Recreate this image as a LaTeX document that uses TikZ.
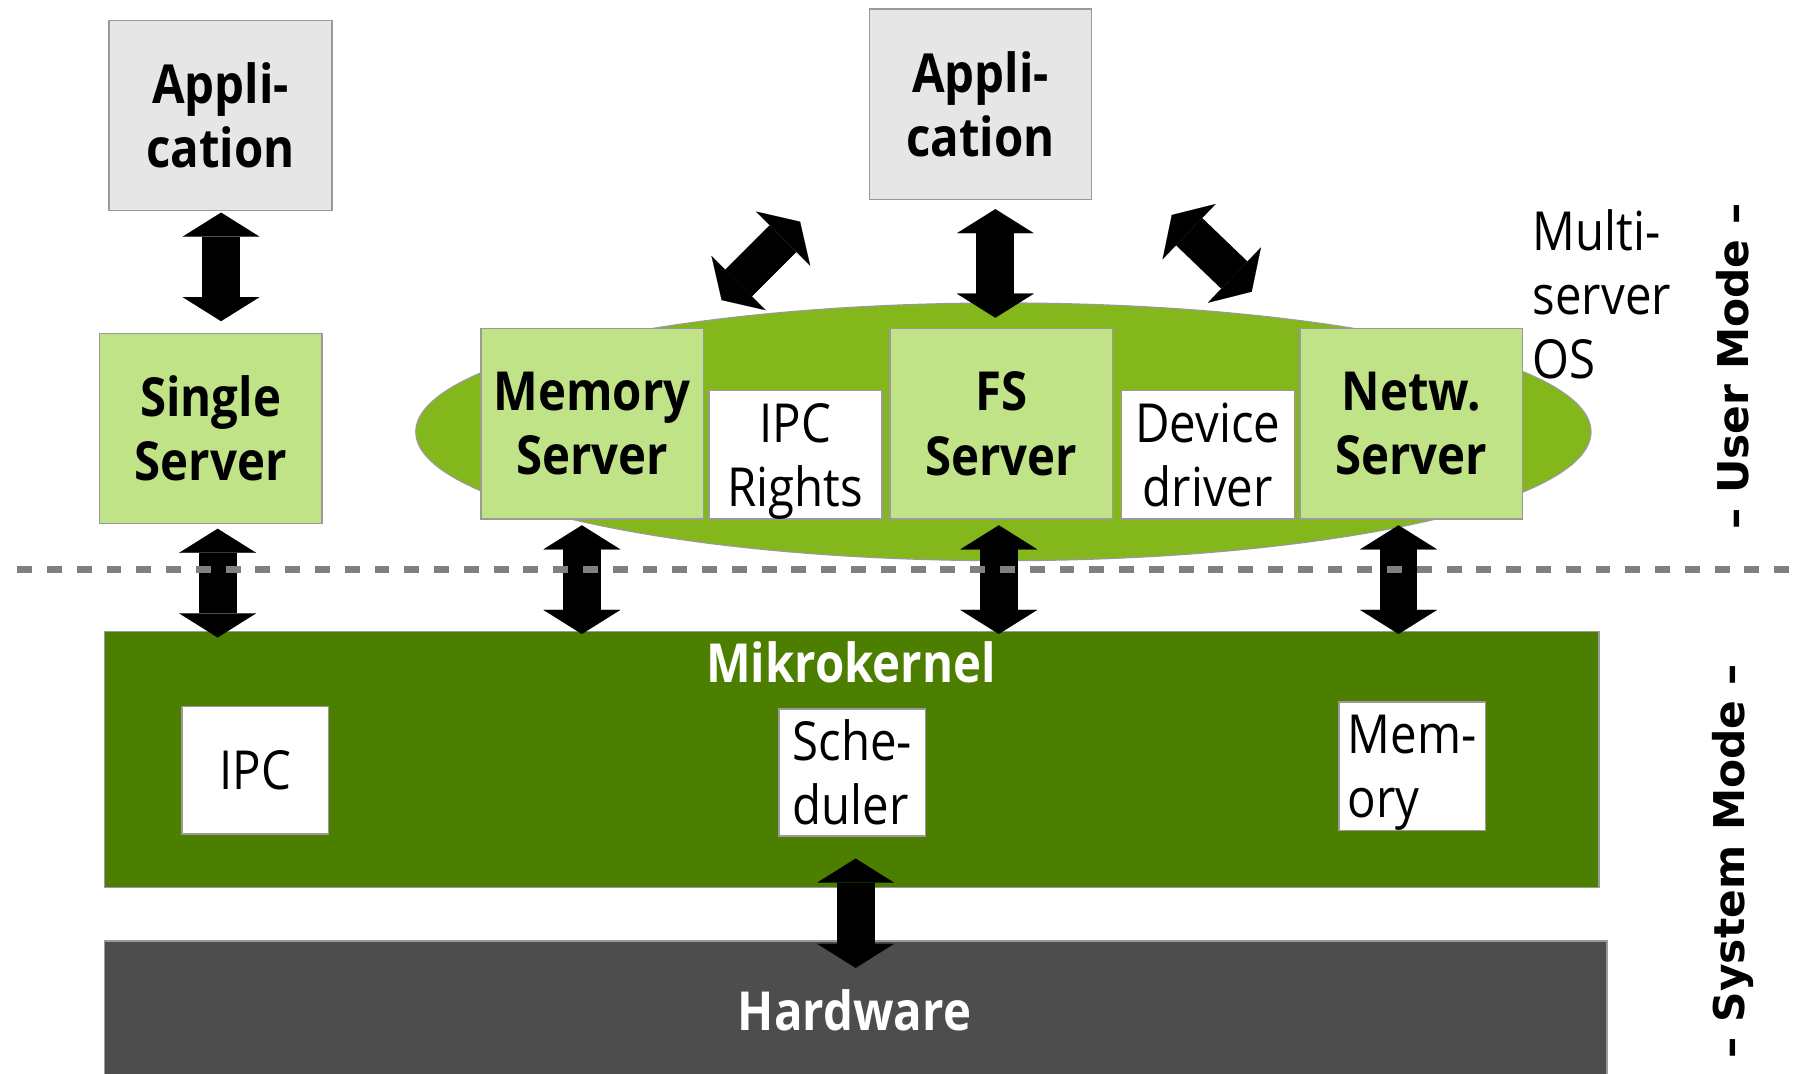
\documentclass[tikz,border=0pt]{standalone}
\usepackage{fontspec}
\setmainfont{Open Sans}[FakeStretch=0.88]
\newfontfamily\sidefont{DejaVu Sans}
\usetikzlibrary{shapes.geometric,arrows.meta,calc}

\definecolor{appgray}{HTML}{E6E6E6}
\definecolor{edgegray}{HTML}{9A9A9A}
\definecolor{srvgreen}{HTML}{C0E387}
\definecolor{osgreen}{HTML}{84B71B}
\definecolor{kerngreen}{HTML}{4C7E00}
\definecolor{hwgray}{HTML}{4D4D4D}
\definecolor{dashgray}{HTML}{808080}

\newcommand{\bigtext}{\fontsize{47pt}{56pt}\selectfont}
% a last line whose descenders should not lift the text block
\newcommand{\nodepth}[1]{\raisebox{0pt}[\height][0pt]{#1}}

\tikzset{
  box/.style={draw=edgegray, line width=1.2pt, inner sep=0pt, align=center, font=\bigtext},
  appbox/.style={box, fill=appgray, font=\bigtext\bfseries, minimum width=195pt, minimum height=166pt},
  srvbox/.style={box, fill=srvgreen, font=\bigtext\bfseries, minimum width=194pt, minimum height=166pt},
  wbox/.style={box, fill=white, minimum width=151pt, minimum height=112pt},
  kbox/.style={box, fill=white, minimum width=128pt, minimum height=111pt},
  layer/.style={draw=edgegray, line width=1pt, inner sep=0pt},
  whitelabel/.style={text=white, font=\bigtext\bfseries, inner sep=0pt},
  modelabel/.style={rotate=90, font=\sidefont\bfseries\fontsize{37pt}{44pt}\selectfont, inner sep=0pt},
  dbl/.style={line width=33pt, draw=black,
    {Triangle[length=21pt,width=67pt,line width=0.1pt]}-{Triangle[length=21pt,width=67pt,line width=0.1pt]}},
  sepline/.style={draw=dashgray, line width=6pt, dash pattern=on 13pt off 13pt}
}

\begin{document}
\begin{tikzpicture}[x=1pt,y=-1pt]
\useasboundingbox (0,0) rectangle (1568,937);

% multi-server OS ellipse with its servers
\node[ellipse, draw=edgegray, line width=1pt, fill=osgreen, inner sep=0pt,
      minimum width=1026pt, minimum height=225pt] (os) at (876,377) {};

\node[appbox] (app1) at (192.5,101) {Appli-\\cation};
\node[appbox, minimum width=194pt] (app2) at (856,91) {Appli-\\cation};

\node[srvbox] (single) at (184,374) {Single\\Server};
\node[srvbox] (mem) at (517,370) {Memory\\Server};
\node[srvbox] (fs) at (874,370) {FS\\Server};
\node[srvbox] (netw) at (1232,370) {Netw.\\Server};
\node[wbox] (rights) at (694.5,397) {IPC\\\nodepth{Rights}};
\node[wbox] (driver) at (1054.5,397) {Device\\driver};

\node[align=left, anchor=west, inner sep=0pt, font=\bigtext] (multi) at (1338,257) {Multi-\\server\\OS};

% kernel and hardware layers
\node[layer, fill=kerngreen, minimum width=1305pt, minimum height=224pt] (kernel) at (743.5,663) {};
\node[whitelabel] (kname) at (743,578) {Mikrokernel};
\node[kbox] (ipc) at (223,672.5) {IPC};
\node[kbox, align=left] (sched) at (744,674.5) {Sche-\\duler};
\node[kbox, align=left, minimum height=112pt] (kmem) at (1233,669) {Mem-\\\nodepth{ory}};

\node[layer, fill=hwgray, minimum width=1312pt, minimum height=120pt, anchor=north] (hw) at (747,821) {};
\node[whitelabel] (hwname) at (746,882) {Hardware};

% communication arrows
\coordinate (dl1) at (630,262);
\coordinate (dl2) at (698.5,193.5);
\coordinate (dr1) at (1023,187.7);
\coordinate (dr2) at (1092.8,254.7);

\draw[dbl] ($(app1.south)+(0.5,1)$) -- ($(single.north)+(9,-10)$);
\draw[dbl] ($(app2.south)+(13,8)$) -- ($(fs.north)+(-5,-9)$);
\draw[dbl] (dl1) -- (dl2);
\draw[dbl] (dr1) -- (dr2);

\draw[dbl] ($(single.south)+(6,4)$) -- ($(kernel.north -| single.south)+(6,6)$);
\draw[dbl] ($(mem.south)+(-9,5)$) -- ($(kernel.north -| mem.south)+(-9,3)$);
\draw[dbl] ($(fs.south)+(-2,5)$) -- ($(kernel.north -| fs.south)+(-2,3)$);
\draw[dbl] ($(netw.south)+(-11,5)$) -- ($(kernel.north -| netw.south)+(-11,3)$);

\draw[dbl] ($(sched.south)+(3,19)$) -- ($(hw.north)+(0,24)$);

% user / system boundary
\draw[sepline] (15,497) -- (1568,497);

\node[modelabel] (user) at (1513,320) {– User Mode –};
\node[modelabel] (system) at (1513,752) {– System Mode –};
\end{tikzpicture}
\end{document}
